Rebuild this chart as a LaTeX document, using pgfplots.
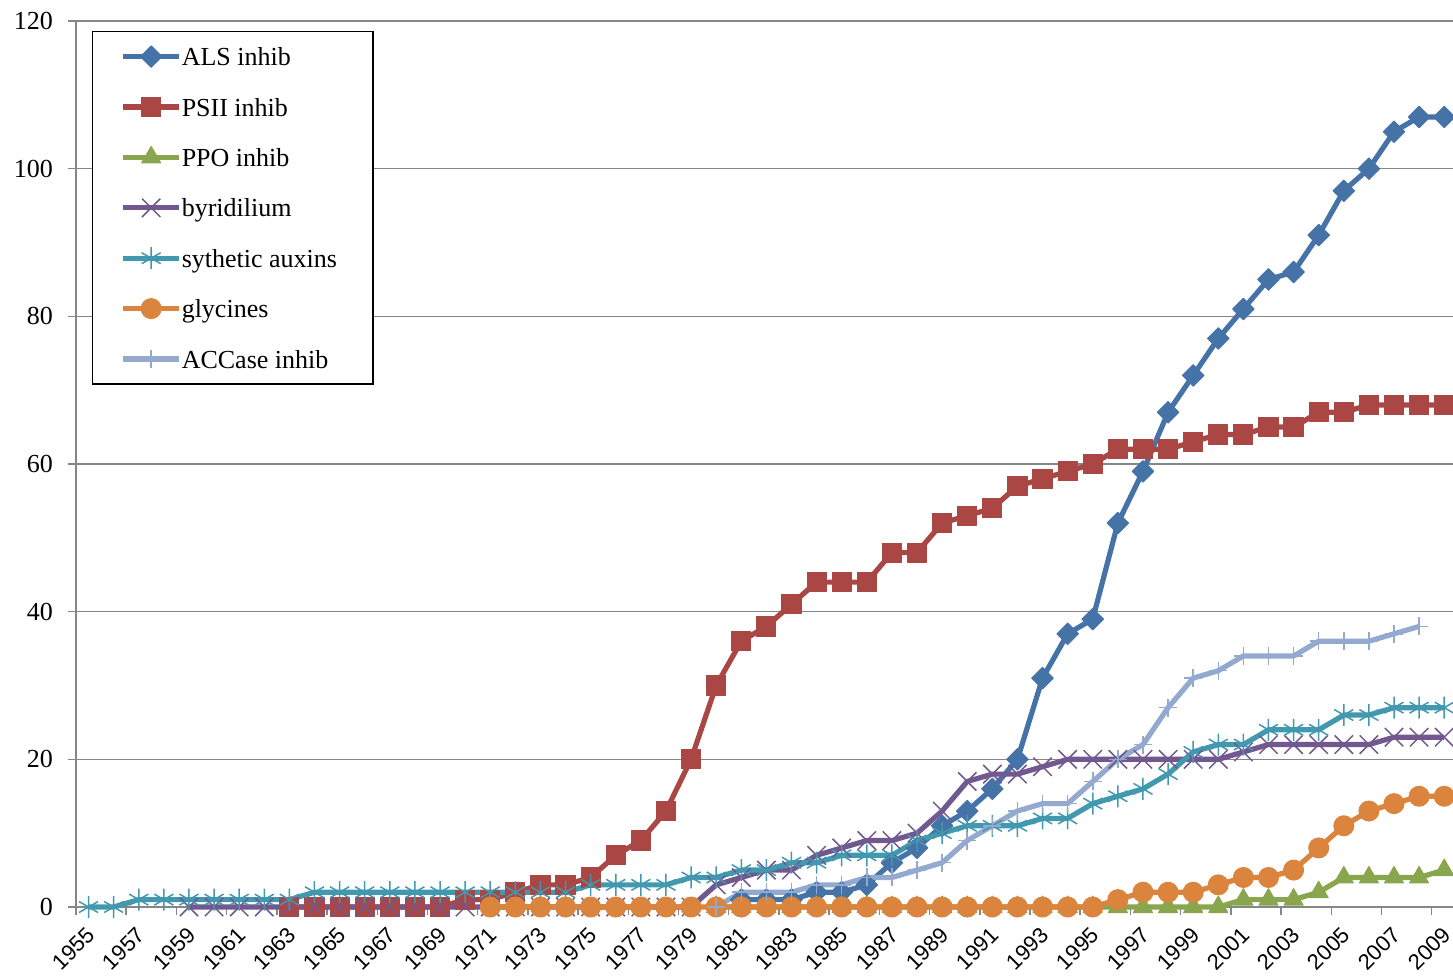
\documentclass[border=0pt]{standalone}
\usepackage{fontspec}
\setmainfont{Liberation Serif}
\newfontfamily\arial{Liberation Sans}
\usepackage{pgfplots}
\pgfplotsset{compat=1.18}
\definecolor{cALS}{HTML}{4572A7}
\definecolor{cPSII}{HTML}{AA4643}
\definecolor{cPPO}{HTML}{89A54E}
\definecolor{cBYR}{HTML}{71588F}
\definecolor{cAUX}{HTML}{4198AF}
\definecolor{cGLY}{HTML}{DB843D}
\definecolor{cACC}{HTML}{93A9CF}
\definecolor{gridgray}{HTML}{868686}
\begin{document}
\begin{tikzpicture}
\begin{axis}[
  scale only axis, width=688.5pt, height=443pt,
  xmin=1954.5, xmax=2009.35, ymin=0, ymax=120,
  clip=false,
  axis x line*=bottom, axis y line*=left,
  axis line style={draw=gridgray, line width=0.75pt, -},
  /pgf/number format/assume math mode=true,
  /pgf/number format/1000 sep={},
  ytick={0,20,...,120},
  ymajorgrids, major grid style={gridgray, line width=0.75pt},
  tick align=outside, major tick length=4pt,
  tick style={gridgray, line width=0.75pt},
  yticklabel style={font=\fontsize{13}{15}\selectfont, xshift=-4pt},
  xtick={1954.5,1956.5,...,2008.5}, xticklabels={},
  extra x ticks={1955,1957,...,2009},
  extra x tick labels={1955,1957,1959,1961,1963,1965,1967,1969,1971,1973,1975,1977,1979,1981,1983,1985,1987,1989,1991,1993,1995,1997,1999,2001,2003,2005,2007,2009},
  extra x tick style={major tick length=0pt, grid=none,
    xticklabel style={rotate=45, anchor=north east, font=\arial\fontsize{11}{13}\selectfont, yshift=-2.0pt, xshift=-4.2pt}},
  every axis plot/.append style={line width=2.6pt, line join=round},
  legend style={at={(0.0116,0.9887)}, anchor=north west, draw=black, line width=0.6pt, fill=white,
    font=\fontsize{13}{15}\selectfont, row sep=13.2pt, inner xsep=14pt, inner ysep=6.5pt,
    nodes={inner sep=0pt, text height=10.5pt, text depth=1.5pt},
    /tikz/every odd column/.append style={column sep=0pt}},
  legend cell align=left,
  legend image code/.code={\draw[mark repeat=2, mark phase=2, #1] plot coordinates {(0pt,0pt) (14pt,0pt) (28pt,0pt)};},
]
\addplot[color=cALS, mark=square*, mark size=3.8pt, mark options={rotate=45, fill=cALS, line width=0.5pt}] coordinates {
(1981,1)(1982,1)(1983,1)(1984,2)(1985,2)(1986,3)(1987,6)(1988,8)(1989,11)(1990,13)(1991,16)(1992,20)(1993,31)(1994,37)(1995,39)(1996,52)(1997,59)(1998,67)(1999,72)(2000,77)(2001,81)(2002,85)(2003,86)(2004,91)(2005,97)(2006,100)(2007,105)(2008,107)(2009,107)};
\addlegendentry{ALS inhib}
\addplot[color=cPSII, mark=square*, mark size=4.8pt, mark options={fill=cPSII, line width=0.5pt}] coordinates {
(1963,0)(1964,0)(1965,0)(1966,0)(1967,0)(1968,0)(1969,0)(1970,1)(1971,1)(1972,2)(1973,3)(1974,3)(1975,4)(1976,7)(1977,9)(1978,13)(1979,20)(1980,30)(1981,36)(1982,38)(1983,41)(1984,44)(1985,44)(1986,44)(1987,48)(1988,48)(1989,52)(1990,53)(1991,54)(1992,57)(1993,58)(1994,59)(1995,60)(1996,62)(1997,62)(1998,62)(1999,63)(2000,64)(2001,64)(2002,65)(2003,65)(2004,67)(2005,67)(2006,68)(2007,68)(2008,68)(2009,68)};
\addlegendentry{PSII inhib}
\addplot[color=cPPO, mark=triangle*, mark size=5.5pt, mark options={fill=cPPO, line width=0.5pt}] coordinates {
(1980,0)(1981,0)(1982,0)(1983,0)(1984,0)(1985,0)(1986,0)(1987,0)(1988,0)(1989,0)(1990,0)(1991,0)(1992,0)(1993,0)(1994,0)(1995,0)(1996,0)(1997,0)(1998,0)(1999,0)(2000,0)(2001,1)(2002,1)(2003,1)(2004,2)(2005,4)(2006,4)(2007,4)(2008,4)(2009,5)};
\addlegendentry{PPO inhib}
\addplot[color=cBYR, mark=x, mark size=6.5pt, mark options={line width=0.75pt}] coordinates {
(1959,0)(1960,0)(1961,0)(1962,0)(1963,0)(1964,0)(1965,0)(1966,0)(1967,0)(1968,0)(1969,0)(1970,0)(1971,0)(1972,0)(1973,0)(1974,0)(1975,0)(1976,0)(1977,0)(1978,0)(1979,0)(1980,3)(1981,4)(1982,5)(1983,5)(1984,7)(1985,8)(1986,9)(1987,9)(1988,10)(1989,13)(1990,17)(1991,18)(1992,18)(1993,19)(1994,20)(1995,20)(1996,20)(1997,20)(1998,20)(1999,20)(2000,20)(2001,21)(2002,22)(2003,22)(2004,22)(2005,22)(2006,22)(2007,23)(2008,23)(2009,23)};
\addlegendentry{byridilium}
\addplot[color=cAUX, mark=asterisk, mark size=5.5pt, mark options={line width=0.75pt}] coordinates {
(1955,0)(1956,0)(1957,1)(1958,1)(1959,1)(1960,1)(1961,1)(1962,1)(1963,1)(1964,2)(1965,2)(1966,2)(1967,2)(1968,2)(1969,2)(1970,2)(1971,2)(1972,2)(1973,2)(1974,2)(1975,3)(1976,3)(1977,3)(1978,3)(1979,4)(1980,4)(1981,5)(1982,5)(1983,6)(1984,6)(1985,7)(1986,7)(1987,7)(1988,9)(1989,10)(1990,11)(1991,11)(1992,11)(1993,12)(1994,12)(1995,14)(1996,15)(1997,16)(1998,18)(1999,21)(2000,22)(2001,22)(2002,24)(2003,24)(2004,24)(2005,26)(2006,26)(2007,27)(2008,27)(2009,27)};
\addlegendentry{sythetic auxins\hspace*{4pt}}
\addplot[color=cGLY, mark=*, mark size=5pt, mark options={fill=cGLY, line width=0.5pt}] coordinates {
(1971,0)(1972,0)(1973,0)(1974,0)(1975,0)(1976,0)(1977,0)(1978,0)(1979,0)(1980,0)(1981,0)(1982,0)(1983,0)(1984,0)(1985,0)(1986,0)(1987,0)(1988,0)(1989,0)(1990,0)(1991,0)(1992,0)(1993,0)(1994,0)(1995,0)(1996,1)(1997,2)(1998,2)(1999,2)(2000,3)(2001,4)(2002,4)(2003,5)(2004,8)(2005,11)(2006,13)(2007,14)(2008,15)(2009,15)};
\addlegendentry{glycines}
\addplot[color=cACC, mark=+, mark size=4.5pt, mark options={line width=0.75pt}] coordinates {
(1980,0)(1981,2)(1982,2)(1983,2)(1984,3)(1985,3)(1986,4)(1987,4)(1988,5)(1989,6)(1990,9)(1991,11)(1992,13)(1993,14)(1994,14)(1995,17)(1996,20)(1997,22)(1998,27)(1999,31)(2000,32)(2001,34)(2002,34)(2003,34)(2004,36)(2005,36)(2006,36)(2007,37)(2008,38)};
\addlegendentry{ACCase inhib}
\end{axis}
\pgfresetboundingbox
\path[use as bounding box] ([shift={(-38pt,-34.5pt)}]current axis.south west) rectangle ([shift={(0pt,10.5pt)}]current axis.north east);
\end{tikzpicture}
\end{document}
